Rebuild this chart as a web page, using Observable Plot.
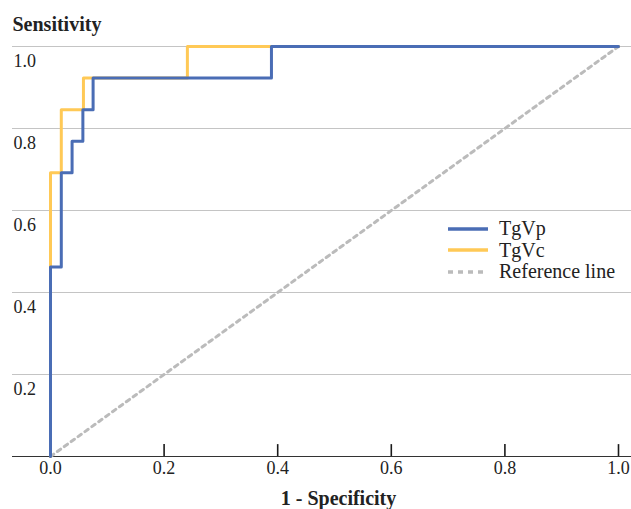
<!DOCTYPE html>
<html><head><meta charset="utf-8">
<script src="https://cdn.jsdelivr.net/npm/d3@7"></script>
<script src="https://cdn.jsdelivr.net/npm/@observablehq/plot@0.6"></script>
<style>
body{margin:0;background:#fff;}
#wrap{position:relative;width:631px;height:509px;}
.legend{position:absolute;left:448px;top:218px;font-family:"Liberation Serif";font-size:20px;color:#222;}
.legend .row{display:flex;align-items:center;height:21.5px;}
.legend svg{margin-right:11px;}
</style></head><body><div id="wrap"></div>
<script>
const seriesNames = ["TgVp", "TgVc", "Reference line"];
const seriesColors = ["#4A6DB5", "#FFC956", "#BBBBBB"];
const tgvpFpr = [0, 0, 0.019, 0.038, 0.057, 0.075, 0.389, 1.0];
const tgvpTpr = [0, 0.462, 0.692, 0.769, 0.846, 0.923, 1.0, 1.0];
const tgvcFpr = [0, 0, 0.019, 0.058, 0.241, 1.0];
const tgvcTpr = [0, 0.692, 0.846, 0.923, 1.0, 1.0];
const refFpr = [0, 1];
const refTpr = [0, 1];
const xTicks = [0, 0.2, 0.4, 0.6, 0.8, 1.0];
const yTicks = [0.2, 0.4, 0.6, 0.8, 1.0];

const toPts = (xs, ys) => xs.map((x, i) => ({x, y: ys[i]}));
const tgvp = toPts(tgvpFpr, tgvpTpr);
const tgvc = toPts(tgvcFpr, tgvcTpr);
const ref = toPts(refFpr, refTpr);
const fmt = d3.format(".1f");

const chart = Plot.plot({
  width: 631, height: 509,
  marginLeft: 50, marginRight: 13, marginTop: 46, marginBottom: 53,
  x: {domain: [0, 1]},
  y: {domain: [0, 1]},
  style: {fontFamily: "Liberation Serif", fontSize: "18px", color: "#222"},
  marks: [
    Plot.ruleY(yTicks, {stroke: "#c4c4c4", strokeWidth: 1, insetLeft: -38, insetRight: -13}),
    Plot.ruleY([0], {stroke: "#333", strokeWidth: 1.2, insetLeft: -38, insetRight: -13}),
    Plot.ruleX(xTicks, {x: d => d, y1: 0, y2: 0.029, stroke: "#1a1a1a", strokeWidth: 1.6}),
    Plot.axisX(xTicks, {tickSize: 0, tickPadding: 5, tickFormat: fmt, label: null}),
    Plot.axisY(yTicks, {tickSize: 0, tickPadding: 0, textAnchor: "start", dx: -37, dy: 15, tickFormat: fmt, label: null}),
    Plot.line(ref, {x: "x", y: "y", stroke: seriesColors[2], strokeWidth: 3, strokeDasharray: "4,4.5"}),
    Plot.line(tgvc, {x: "x", y: "y", curve: "step-after", stroke: seriesColors[1], strokeWidth: 3}),
    Plot.line(tgvp, {x: "x", y: "y", curve: "step-after", stroke: seriesColors[0], strokeWidth: 3}),
    Plot.text(["Sensitivity"], {frameAnchor: "top-left", dx: -38, dy: -22, textAnchor: "start", lineAnchor: "middle", fontWeight: "bold", fontSize: 20}),
    Plot.text(["1 - Specificity"], {frameAnchor: "bottom", dx: 4, dy: 42, lineAnchor: "middle", fontWeight: "bold", fontSize: 20})
  ]
});
const wrap = document.getElementById("wrap");
wrap.appendChild(chart);

const legend = document.createElement("div");
legend.className = "legend";
seriesNames.forEach((name, i) => {
  const row = document.createElement("div");
  row.className = "row";
  const dash = i === 2 ? ' stroke-dasharray="5,5"' : '';
  row.innerHTML = `<svg width="40" height="6"><line x1="0" y1="3" x2="40" y2="3" stroke="${seriesColors[i]}" stroke-width="3.5"${dash}/></svg><span>${name}</span>`;
  legend.appendChild(row);
});
wrap.appendChild(legend);
</script>
</body></html>
